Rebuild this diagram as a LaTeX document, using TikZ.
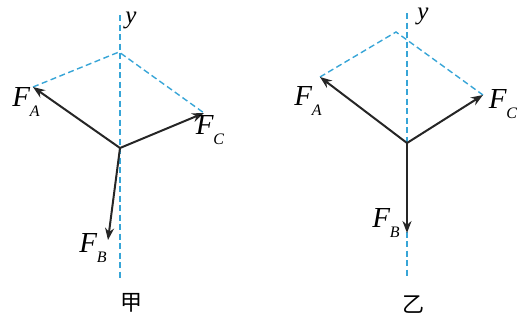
\documentclass[tikz,border=0pt]{standalone}
\usepackage{fontspec}
\setmainfont{Liberation Serif}
\newfontfamily\cjk{Noto Sans CJK SC}
\usetikzlibrary{arrows.meta}
\definecolor{axisblue}{RGB}{55,165,215}
\newcommand\Fsub[1]{\textit{F}\kern-0.5pt\raisebox{-0.32em}{\fontsize{16}{16}\selectfont\textit{#1}}}
\begin{document}
\begin{tikzpicture}[x=1pt,y=-1pt,
  axisline/.style={axisblue,dashed,dash pattern=on 6pt off 3.5pt,line width=1.4pt},
  force/.style={black!85,line width=2pt,-{Stealth[length=12pt,width=9pt]}},
  lab/.style={font=\fontsize{29}{29}\selectfont,inner sep=0pt},
  ylab/.style={font=\fontsize{25}{25}\selectfont\itshape,inner sep=0pt},
  captext/.style={font=\cjk\fontsize{22}{22}\selectfont,inner sep=0pt}]
\useasboundingbox (0,0) rectangle (519,324);
% left diagram (jia)
\coordinate (O1) at (120,148);
\coordinate (T1) at (119,52);
\coordinate (Y1s) at (120,15);
\coordinate (Y1e) at (120,280);
\coordinate (A1) at (33,87);
\coordinate (C1) at (204,113);
\coordinate (B1) at (108,240);
\draw[axisline] (Y1s) -- (Y1e);
\draw[axisline] (A1) -- (T1) -- (C1);
\draw[force] (O1) -- (A1);
\draw[force] (O1) -- (C1);
\draw[force] (O1) -- (B1);
\node[ylab] (y1) at (131,20) {y};
\node[lab] (fa1) at (26,102) {\Fsub{A}};
\node[lab] (fc1) at (210,130) {\Fsub{C}};
\node[lab] (fb1) at (93,248) {\Fsub{B}};
\node[captext] (jia) at (131,303) {甲};
% right diagram (yi)
\coordinate (O2) at (407,143);
\coordinate (T2) at (396,32);
\coordinate (Y2s) at (407,13);
\coordinate (Y2e) at (407,277);
\coordinate (A2) at (320,77);
\coordinate (C2) at (483,95);
\coordinate (B2) at (407,233);
\draw[axisline] (Y2s) -- (Y2e);
\draw[axisline] (A2) -- (T2) -- (C2);
\draw[force] (O2) -- (A2);
\draw[force] (O2) -- (C2);
\draw[force] (O2) -- (B2);
\node[ylab] (y2) at (423,16) {y};
\node[lab] (fa2) at (308,101) {\Fsub{A}};
\node[lab] (fc2) at (503,104) {\Fsub{C}};
\node[lab] (fb2) at (386,223) {\Fsub{B}};
\node[captext] (yi) at (413,305) {乙};
\end{tikzpicture}
\end{document}
